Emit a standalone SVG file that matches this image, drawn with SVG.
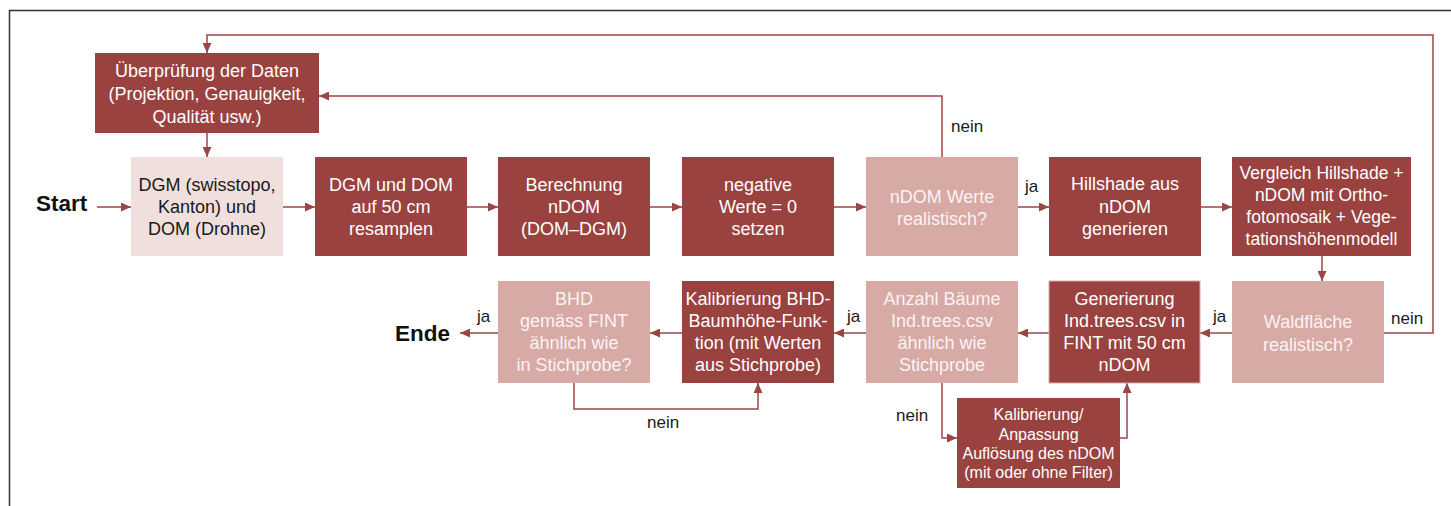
<svg xmlns="http://www.w3.org/2000/svg" width="1451" height="506" viewBox="0 0 1451 506">
<style>
.dark{fill:#99423f}
.mid{fill:#d7aaa6}
.light{fill:#f0dfdc}
.t{font-family:"Liberation Sans",Arial,sans-serif;font-size:18px;text-anchor:middle;fill:#ffffff}
.tv{font-size:17.5px}
.tm{font-family:"Liberation Sans",Arial,sans-serif;font-size:18px;text-anchor:middle;fill:#fbf3f2}
.tk{font-family:"Liberation Sans",Arial,sans-serif;font-size:18px;text-anchor:middle;fill:#1a1a1a}
.ts{font-family:"Liberation Sans",Arial,sans-serif;font-size:16px;text-anchor:middle;fill:#ffffff}
.lbl{font-family:"Liberation Sans",Arial,sans-serif;font-size:17px;fill:#1a1a1a}
.big{font-family:"Liberation Sans",Arial,sans-serif;font-size:22.5px;font-weight:bold;fill:#111111}
.c{fill:none;stroke:#9b4644;stroke-width:1.5;marker-end:url(#ah)}
</style>
<defs>
<marker id="ah" markerUnits="userSpaceOnUse" markerWidth="11" markerHeight="9" refX="10" refY="4.5" orient="auto">
<path d="M0,0 L10,4.5 L0,9 z" fill="#9b4644"/>
</marker>
</defs>
<rect width="1451" height="506" fill="#ffffff"/>
<path d="M9.5,506 V10.5 H1451" fill="none" stroke="#333333" stroke-width="1.5"/>

<g id="connectors">
<path class="c" d="M97,207 H131"/>
<path class="c" d="M283,207 H315"/>
<path class="c" d="M467,207 H498"/>
<path class="c" d="M650,207 H682"/>
<path class="c" d="M834,207 H866"/>
<path class="c" d="M1018,207 H1049"/>
<path class="c" d="M1201,207 H1232"/>
<path class="c" d="M1322,256 V281"/>
<path class="c" d="M1232,333 H1200"/>
<path class="c" d="M1384,333 H1433 V35 H207 V53"/>
<path class="c" d="M942,157 V96 H319"/>
<path class="c" d="M207,133 V157"/>
<path class="c" d="M1049,333 H1018"/>
<path class="c" d="M866,333 H834"/>
<path class="c" d="M682,333 H650"/>
<path class="c" d="M498,333 H460"/>
<path class="c" d="M574,383 V409 H758 V383"/>
<path class="c" d="M942,383 V438 H957"/>
<path class="c" d="M1120,438 H1127 V383"/>
</g>

<g id="labels">
<text class="big" x="36" y="211">Start</text>
<text class="big" x="395" y="341">Ende</text>
<text class="lbl" x="951" y="132">nein</text>
<text class="lbl" x="1025" y="192">ja</text>
<text class="lbl" x="1213" y="322">ja</text>
<text class="lbl" x="1391" y="324">nein</text>
<text class="lbl" x="847" y="322">ja</text>
<text class="lbl" x="477" y="322">ja</text>
<text class="lbl" x="647" y="428">nein</text>
<text class="lbl" x="896" y="421">nein</text>
</g>

<g id="n-pruefung">
<rect class="dark" x="95" y="53" width="224" height="80"/>
<text class="t" x="207" y="77">Überprüfung der Daten</text>
<text class="t" x="207" y="100">(Projektion, Genauigkeit,</text>
<text class="t" x="207" y="123">Qualität usw.)</text>
</g>
<g id="n-dgm">
<rect class="light" x="131" y="157" width="152" height="99"/>
<text class="tk" x="207" y="191">DGM (swisstopo,</text>
<text class="tk" x="207" y="213">Kanton) und</text>
<text class="tk" x="207" y="235">DOM (Drohne)</text>
</g>
<g id="n-resample">
<rect class="dark" x="315" y="157" width="152" height="99"/>
<text class="t" x="391" y="191">DGM und DOM</text>
<text class="t" x="391" y="213">auf 50 cm</text>
<text class="t" x="391" y="235">resamplen</text>
</g>
<g id="n-berechnung">
<rect class="dark" x="498" y="157" width="152" height="99"/>
<text class="t" x="574" y="191">Berechnung</text>
<text class="t" x="574" y="213">nDOM</text>
<text class="t" x="574" y="235">(DOM–DGM)</text>
</g>
<g id="n-negative">
<rect class="dark" x="682" y="157" width="152" height="99"/>
<text class="t" x="758" y="191">negative</text>
<text class="t" x="758" y="213">Werte = 0</text>
<text class="t" x="758" y="235">setzen</text>
</g>
<g id="n-ndomwerte">
<rect class="mid" x="866" y="157" width="152" height="99"/>
<text class="tm" x="942" y="203">nDOM Werte</text>
<text class="tm" x="942" y="225">realistisch?</text>
</g>
<g id="n-hillshade">
<rect class="dark" x="1049" y="157" width="152" height="99"/>
<text class="t" x="1125" y="190">Hillshade aus</text>
<text class="t" x="1125" y="213">nDOM</text>
<text class="t" x="1125" y="235">generieren</text>
</g>
<g id="n-vergleich">
<rect class="dark" x="1232" y="157" width="179" height="99"/>
<text class="t tv" x="1321.5" y="179">Vergleich Hillshade +</text>
<text class="t tv" x="1321.5" y="201">nDOM mit Ortho-</text>
<text class="t tv" x="1321.5" y="223">fotomosaik + Vege-</text>
<text class="t tv" x="1321.5" y="245">tationshöhenmodell</text>
</g>
<g id="n-waldflaeche">
<rect class="mid" x="1232" y="281" width="152" height="102"/>
<text class="tm" x="1308" y="328">Waldfläche</text>
<text class="tm" x="1308" y="351">realistisch?</text>
</g>
<g id="n-generierung">
<rect class="dark" x="1049" y="281" width="151" height="102" stroke="#d7aaa6" stroke-width="1"/>
<text class="t" x="1124.5" y="305">Generierung</text>
<text class="t" x="1124.5" y="327">Ind.trees.csv in</text>
<text class="t" x="1124.5" y="349">FINT mit 50 cm</text>
<text class="t" x="1124.5" y="371">nDOM</text>
</g>
<g id="n-anzahl">
<rect class="mid" x="866" y="281" width="152" height="102"/>
<text class="tm" x="942" y="305">Anzahl Bäume</text>
<text class="tm" x="942" y="327">Ind.trees.csv</text>
<text class="tm" x="942" y="349">ähnlich wie</text>
<text class="tm" x="942" y="371">Stichprobe</text>
</g>
<g id="n-kalibrierung-bhd">
<rect class="dark" x="682" y="281" width="152" height="102"/>
<text class="t" x="758" y="305">Kalibrierung BHD-</text>
<text class="t" x="758" y="327">Baumhöhe-Funk-</text>
<text class="t" x="758" y="349">tion (mit Werten</text>
<text class="t" x="758" y="371">aus Stichprobe)</text>
</g>
<g id="n-bhd">
<rect class="mid" x="498" y="281" width="152" height="102"/>
<text class="tm" x="574" y="305">BHD</text>
<text class="tm" x="574" y="327">gemäss FINT</text>
<text class="tm" x="574" y="349">ähnlich wie</text>
<text class="tm" x="574" y="371">in Stichprobe?</text>
</g>
<g id="n-anpassung">
<rect class="dark" x="957" y="398" width="163" height="90"/>
<text class="ts" x="1038.5" y="420">Kalibrierung/</text>
<text class="ts" x="1038.5" y="440">Anpassung</text>
<text class="ts" x="1038.5" y="459">Auflösung des nDOM</text>
<text class="ts" x="1038.5" y="478">(mit oder ohne Filter)</text>
</g>
</svg>
